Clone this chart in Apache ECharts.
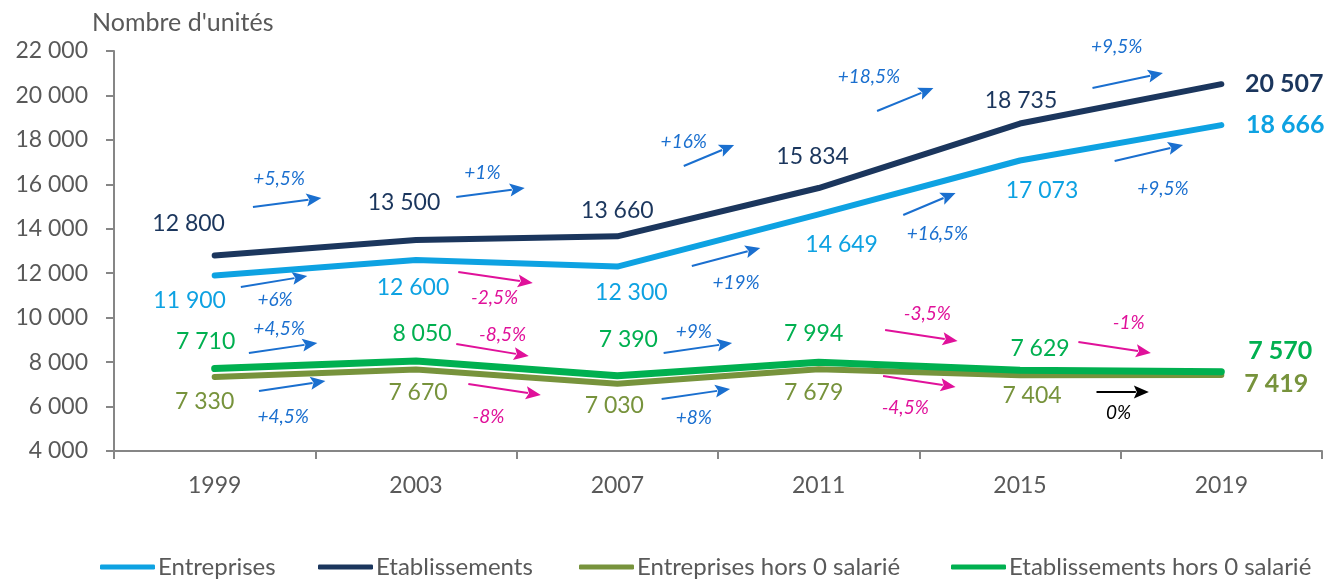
<!DOCTYPE html>
<html>
<head>
<meta charset="utf-8">
<script src="https://cdn.jsdelivr.net/npm/echarts@6/dist/echarts.min.js"></script>
<style>
  html, body { margin: 0; padding: 0; background: #fff; }
  #chart { width: 1327px; height: 579px; }
</style>
</head>
<body>
<div id="chart"></div>
<script>
// data
const years = ['1999', '2003', '2007', '2011', '2015', '2019']
const entreprises = [11900, 12600, 12300, 14649, 17073, 18666]
const etablissements = [12800, 13500, 13660, 15834, 18735, 20507]
const entreprisesHors0 = [7330, 7670, 7030, 7679, 7404, 7419]
const etablissementsHors0 = [7710, 8050, 7390, 7994, 7629, 7570]

// growth notes between two years
const notes = ['+5,5%', '+1%', '+6%', '-2,5%', '+4,5%', '+4,5%', '-8,5%', '-8%',
  '+16%', '+19%', '+16,5%', '+9%', '+8%', '-3,5%', '-4,5%',
  '+18,5%', '+9,5%', '+9,5%', '-1%', '0%']

// where each note sits, in axis units: [x0, y0, x1, y1, textX, textY] (x = year index)
const noteAnchors = [
  [0.19, 14980, 0.53, 15385, 0.32, 16240],
  [1.20, 15430, 1.54, 15835, 1.33, 16510],
  [0.13, 11380, 0.46, 11875, 0.30, 10795],
  [1.21, 12055, 1.58, 11560, 1.39, 10885],
  [0.17, 8410, 0.51, 8860, 0.32, 9490],
  [0.22, 6700, 0.55, 7150, 0.34, 5530],
  [1.20, 8815, 1.56, 8275, 1.43, 9220],
  [1.26, 7015, 1.62, 6520, 1.36, 5530],
  [2.33, 16825, 2.58, 17770, 2.33, 17905],
  [2.37, 12325, 2.71, 13135, 2.59, 11560],
  [3.42, 14620, 3.68, 15610, 3.59, 13765],
  [2.23, 8410, 2.57, 8860, 2.38, 9355],
  [2.22, 6340, 2.56, 6790, 2.38, 5485],
  [3.33, 9445, 3.69, 8950, 3.54, 10165],
  [3.32, 7375, 3.68, 6880, 3.43, 5935],
  [3.29, 19300, 3.57, 20335, 3.25, 20830],
  [4.36, 20335, 4.71, 21010, 4.48, 22180],
  [4.47, 17050, 4.81, 17770, 4.71, 15790],
  [4.29, 8905, 4.65, 8410, 4.54, 9760],
  [4.38, 6655, 4.64, 6655, 4.49, 5710]
]

// value label offsets (px from point)
const offEtab = [[-26, -32], [-12, -37], [0, -26], [-6, -31], [1, -23], [63, 0]]
const offEntr = [[-25, 25], [-3, 28], [14, 26], [23, 30], [22, 30], [64, 0]]
const offEtabH0 = [[-9, -27], [6, -27], [11, -36], [-5, -29], [20, -22], [59, -21]]
const offEntrH0 = [[-10, 25], [2, 23], [-3, 22], [-5, 23], [12, 20], [55, 9]]

const FONT = 'Lato, "Noto Sans", sans-serif'
const GREY = '#595959'
const AXIS = '#868686'

const fmt = n => String(n).replace(/\B(?=(\d{3})+(?!\d))/g, ' ')

const noteColor = t => t === '0%' ? '#000000' : (t[0] === '-' ? '#E0119A' : '#1A6FCF')

const makeData = (values, offsets, color) => values.map((v, i) => {
  const last = i === values.length - 1
  return {
    value: v,
    label: {
      offset: offsets[i],
      fontWeight: last ? 'bold' : 'normal',
      fontSize: last ? 25 : 23,
      color: color
    }
  }
})

const makeSeries = (name, values, offsets, color, width, z) => ({
  name: name,
  type: 'line',
  data: makeData(values, offsets, color),
  symbol: 'circle',
  symbolSize: 1,
  itemStyle: { color: color },
  lineStyle: { color: color, width: width, cap: 'round', join: 'round' },
  label: {
    show: true,
    position: 'inside',
    fontFamily: FONT,
    formatter: p => fmt(p.value)
  },
  z: z
})

const legendAt = (name, left) => ({
  data: [{ name: name, icon: 'roundRect' }],
  left: left,
  top: 555,
  padding: 0,
  itemWidth: 55,
  itemHeight: 5,
  itemGap: 0,
  textStyle: { fontSize: 24, color: GREY, fontFamily: FONT, padding: [0, 0, 0, -2] }
})

const chart = echarts.init(document.getElementById('chart'))

chart.setOption({
  animation: false,
  title: {
    text: "Nombre d'unités",
    left: 92,
    top: 10,
    padding: 0,
    textStyle: { fontSize: 25, fontWeight: 'normal', color: GREY, fontFamily: FONT }
  },
  legend: [
    legendAt('Entreprises', 100),
    legendAt('Etablissements', 318),
    legendAt('Entreprises hors 0 salarié', 579),
    legendAt('Etablissements hors 0 salarié', 951)
  ],
  grid: { left: 114, right: 5, top: 51, bottom: 128, containLabel: false },
  xAxis: {
    type: 'category',
    data: years,
    boundaryGap: true,
    axisLine: { lineStyle: { color: AXIS, width: 2 } },
    axisTick: { show: true, length: 8, lineStyle: { color: AXIS, width: 2 } },
    axisLabel: { fontSize: 23, color: GREY, fontFamily: FONT, margin: 23 }
  },
  yAxis: {
    type: 'value',
    min: 4000,
    max: 22000,
    interval: 2000,
    splitLine: { show: false },
    axisLine: { show: true, lineStyle: { color: AXIS, width: 2 } },
    axisTick: { show: true, length: 8, lineStyle: { color: AXIS, width: 2 } },
    axisLabel: { fontSize: 23, color: GREY, fontFamily: FONT, margin: 26, formatter: v => fmt(v) }
  },
  series: [
    makeSeries('Entreprises', entreprises, offEntr, '#0EA2E2', 6, 3),
    makeSeries('Etablissements', etablissements, offEtab, '#1B365D', 6, 4),
    makeSeries('Entreprises hors 0 salarié', entreprisesHors0, offEntrH0, '#77933C', 6, 2),
    makeSeries('Etablissements hors 0 salarié', etablissementsHors0, offEtabH0, '#00B050', 7, 3)
  ]
})

// growth arrows placed through the axes
const xa = chart.convertToPixel({ xAxisIndex: 0 }, years[0])
const xb = chart.convertToPixel({ xAxisIndex: 0 }, years[1])
const px = idx => xa + idx * (xb - xa)
const py = v => chart.convertToPixel({ yAxisIndex: 0 }, v)

const graphics = []
notes.forEach((t, i) => {
  const a = noteAnchors[i]
  const c = noteColor(t)
  const x0 = px(a[0]), y0 = py(a[1]), x1 = px(a[2]), y1 = py(a[3])
  const len = Math.hypot(x1 - x0, y1 - y0)
  const ux = (x1 - x0) / len, uy = (y1 - y0) / len
  const hl = 15, hw = 6.5
  const bx = x1 - ux * hl, by = y1 - uy * hl
  graphics.push({
    type: 'line',
    shape: { x1: x0, y1: y0, x2: bx + ux * 2, y2: by + uy * 2 },
    style: { stroke: c, lineWidth: 2 }
  })
  graphics.push({
    type: 'polygon',
    shape: { points: [[x1, y1], [bx - uy * hw, by + ux * hw], [bx + ux * 3, by + uy * 3], [bx + uy * hw, by - ux * hw]] },
    style: { fill: c }
  })
  graphics.push({
    type: 'text',
    x: px(a[4]),
    y: py(a[5]),
    style: {
      text: t,
      fill: c,
      fontSize: 19,
      fontStyle: 'italic',
      fontFamily: FONT,
      align: 'center',
      verticalAlign: 'middle'
    }
  })
})

chart.setOption({ graphic: graphics })
</script>
</body>
</html>
